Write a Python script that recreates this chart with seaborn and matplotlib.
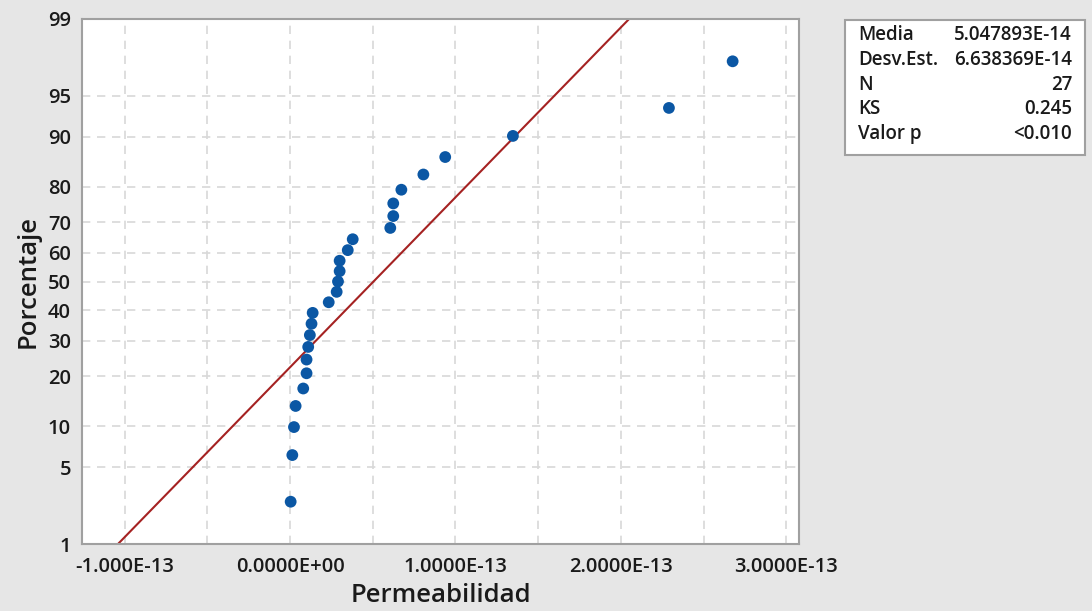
import numpy as np
import pandas as pd
import seaborn as sns
import matplotlib
matplotlib.use("Agg")
import matplotlib.pyplot as plt
from statistics import NormalDist

# ---- data ----
permeabilidad = [0.004e-13, 0.014e-13, 0.024e-13, 0.034e-13, 0.080e-13, 0.100e-13,
                 0.100e-13, 0.110e-13, 0.120e-13, 0.130e-13, 0.137e-13, 0.234e-13,
                 0.282e-13, 0.290e-13, 0.300e-13, 0.300e-13, 0.349e-13, 0.379e-13,
                 0.606e-13, 0.624e-13, 0.624e-13, 0.673e-13, 0.806e-13, 0.938e-13,
                 1.347e-13, 2.290e-13, 2.675e-13]
porcentaje = [2.55, 6.20, 9.85, 13.50, 17.15, 20.80, 24.45, 28.10, 31.75, 35.40,
              39.05, 42.70, 46.35, 50.00, 53.65, 57.30, 60.95, 64.60, 68.25, 71.90,
              75.55, 79.20, 82.85, 86.50, 90.15, 93.80, 97.45]
media = 5.047893e-14
desv = 6.638369e-14
fit_pct = [1, 99]
y_ticks = [1, 5, 10, 20, 30, 40, 50, 60, 70, 80, 90, 95, 99]
x_ticks = [-1e-13, 0.0, 1e-13, 2e-13, 3e-13]
x_ticklabels = ["-1.000E-13", "0.0000E+00", "1.0000E-13", "2.0000E-13", "3.0000E-13"]
x_minor = [-0.5e-13, 0.5e-13, 1.5e-13, 2.5e-13]
stats_labels = ["Media", "Desv.Est.", "N", "KS", "Valor p"]
stats_values = ["5.047893E-14", "6.638369E-14", "27", "0.245", "<0.010"]

nd = NormalDist()
zq = lambda p: nd.inv_cdf(p / 100.0)

sns.set_style("white")
plt.rcParams["font.family"] = ["Open Sans", "DejaVu Sans"]

fig = plt.figure(figsize=(10.92, 6.11), dpi=100, facecolor="#e6e6e6")
ax = fig.add_axes([82/1092, 1-544/611, (799-82)/1092, (544-19)/611])
ax.set_facecolor("white")

df = pd.DataFrame({"x": permeabilidad, "z": [zq(p) for p in porcentaje]})
fit = pd.DataFrame({"z": [zq(p) for p in fit_pct]})
fit["x"] = media + desv * fit["z"]

# grid
for t in y_ticks[1:-1]:
    ax.axhline(zq(t), color="#d8d8d8", lw=1.2, ls=(0, (5, 4)), zorder=0)
for t in x_ticks + x_minor:
    ax.axvline(t, color="#d8d8d8", lw=1.2, ls=(0, (5, 4)), zorder=0)

sns.lineplot(data=fit, x="x", y="z", ax=ax, color="#a52222", lw=1.5, zorder=2,
             sort=False)
sns.scatterplot(data=df, x="x", y="z", ax=ax, color="#0b57a4", s=72,
                edgecolor="none", zorder=3)

ax.set_xlim(-1.257e-13, 3.076e-13)
ax.set_ylim(zq(1), zq(99))
ax.set_yticks([zq(t) for t in y_ticks])
ax.set_yticklabels([str(t) for t in y_ticks])
ax.set_xticks(x_ticks)
ax.set_xticklabels(x_ticklabels)
ax.tick_params(axis="both", labelsize=14.5, length=6, width=1.2,
               color="#a0a0a0", direction="out", pad=2, labelcolor="#1a1a1a")
ax.tick_params(axis="x", pad=3)
for lbl in ax.get_xticklabels() + ax.get_yticklabels():
    lbl.set_fontweight("semibold")
for s in ax.spines.values():
    s.set_color("#a0a0a0")
    s.set_linewidth(1.5)

ax.set_xlabel("Permeabilidad", fontsize=18.5, color="#1a1a1a", labelpad=5,
              fontweight="semibold")
ax.set_ylabel("Porcentaje", fontsize=18.5, color="#1a1a1a", labelpad=5,
              fontweight="semibold")

# stats box
bx0, by0, bx1, by1 = 845/1092, 1-155/611, 1085/1092, 1-20/611
rect = plt.Rectangle((bx0, by0), bx1-bx0, by1-by0, transform=fig.transFigure,
                     facecolor="white", edgecolor="#a0a0a0", lw=1.5)
fig.add_artist(rect)
rows_y = [35, 60, 85, 109, 134]
for lab, val, yy in zip(stats_labels, stats_values, rows_y):
    fig.text(858/1092, 1-yy/611, lab, fontsize=13.5, va="center", ha="left",
             color="#1a1a1a", fontweight="semibold")
    fig.text(1072/1092, 1-yy/611, val, fontsize=13.5, va="center", ha="right",
             color="#1a1a1a", fontweight="semibold")

fig.savefig("out.png", dpi=100, facecolor=fig.get_facecolor())
